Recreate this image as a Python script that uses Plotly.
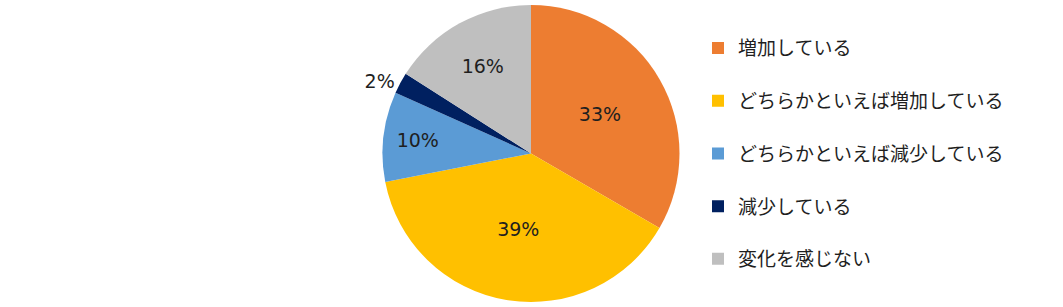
import plotly.graph_objects as go

labels = ["増加している", "どちらかといえば増加している", "どちらかといえば減少している", "減少している", "変化を感じない"]
values = [33.4, 38.6, 9.8, 2.3, 16.0]
colors = ["#ED7D31", "#FFC000", "#5B9BD5", "#002060", "#BFBFBF"]
text_pos = ["inside", "inside", "inside", "outside", "inside"]

FONT = "Noto Sans CJK JP"
NUM_FONT = "DejaVu Sans"

fig = go.Figure()
fig.add_trace(go.Pie(
    labels=labels, values=values, sort=False, direction="clockwise", rotation=0,
    marker=dict(colors=colors, line=dict(color="white", width=0)),
    textinfo="percent", texttemplate="%{percent:.0%}",
    textposition=text_pos, insidetextorientation="horizontal",
    textfont=dict(family=NUM_FONT, size=19, color="#1f1f1f"),
    showlegend=False,
    domain=dict(x=[(531 - 150) / 1063, (531 + 150) / 1063], y=[0.0, 1.0]),
    hoverinfo="label+percent",
))
for lab, col in zip(labels, colors):
    fig.add_trace(go.Scatter(
        x=[None], y=[None], mode="markers", name=lab, legendgroup=lab,
        marker=dict(symbol="square", size=12, color=col),
    ))

fig.update_layout(
    width=1063, height=307,
    margin=dict(l=0, r=0, t=0, b=0),
    paper_bgcolor="white", plot_bgcolor="white",
    xaxis=dict(visible=False), yaxis=dict(visible=False),
    legend=dict(
        x=698 / 1063, y=1 - 25 / 307, xanchor="left", yanchor="top",
        font=dict(family=FONT, size=19, color="#1f1f1f"),
        tracegroupgap=25, itemwidth=30, bgcolor="rgba(0,0,0,0)",
    ),
    font=dict(family=FONT),
)
fig.write_html("out.html")
